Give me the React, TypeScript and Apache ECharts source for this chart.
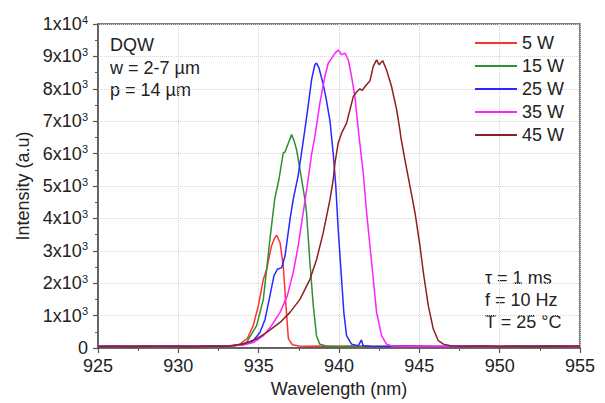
import React, { useEffect, useRef } from "react";
import * as echarts from "echarts";

const FONT = "'Liberation Sans', Arial, sans-serif";

const seriesNames = ["5 W", "15 W", "25 W", "35 W", "45 W"];
const seriesColors = ["#ff3030", "#2e9030", "#2828ff", "#ff20ff", "#8b2020"];

const red5: [number, number][] = [
  [925, 50], [926, 58], [927, 44], [928, 55], [929, 48], [930, 60], [931, 46], [932, 56], [933, 62],
  [933.5, 80], [933.84, 120], [934.3, 300], [934.66, 690], [934.98, 1300], [935.29, 2120], [935.5, 2430],
  [935.65, 2800], [935.8, 3150], [936.0, 3400], [936.12, 3480], [936.33, 3250], [936.53, 2530],
  [936.7, 1300], [936.85, 280], [937.1, 100], [937.5, 60], [938, 52], [939, 58], [940, 45], [941, 55],
  [942, 50], [944, 56], [946, 48], [948, 55], [950, 50], [952, 58], [955, 50],
];

const green15: [number, number][] = [
  [925, 55], [926, 48], [927, 60], [928, 50], [929, 56], [930, 47], [931, 58], [932, 52], [933, 60],
  [933.6, 75], [934.25, 170], [934.87, 690], [935.29, 1500], [935.7, 3350], [936.0, 4600], [936.26, 5200],
  [936.53, 6020], [936.64, 6050], [936.85, 6330], [937.05, 6585], [937.2, 6400], [937.36, 6120],
  [937.57, 5510], [937.88, 4585], [937.98, 4175], [938.19, 2640], [938.4, 1300], [938.6, 380],
  [938.8, 120], [939.2, 60], [940, 52], [941, 58], [942, 47], [944, 55], [946, 50], [948, 57],
  [950, 48], [952, 55], [955, 52],
];

const blue25: [number, number][] = [
  [925, 48], [926, 56], [927, 50], [928, 45], [929, 58], [930, 52], [931, 47], [932, 60], [933, 55],
  [934.0, 100], [934.66, 225], [935.08, 480], [935.4, 890], [935.7, 1610], [935.95, 2225], [936.16, 2430],
  [936.43, 2480], [936.64, 2840], [936.95, 3970], [937.15, 4585], [937.45, 5300], [937.75, 6300],
  [938.02, 7250], [938.3, 8300], [938.5, 8750], [938.6, 8790], [938.75, 8650], [939.0, 8175],
  [939.2, 7700], [939.44, 7000], [939.64, 6000], [939.8, 5000], [939.95, 3660], [940.16, 2120],
  [940.3, 1100], [940.47, 380], [940.78, 120], [941.2, 70], [941.4, 250], [941.5, 70], [942, 55],
  [943, 50], [944, 58], [946, 46], [948, 55], [950, 50], [952, 57], [955, 48],
];

const magenta35: [number, number][] = [
  [925, 52], [926, 46], [927, 57], [928, 52], [929, 45], [930, 55], [931, 60], [932, 50], [933, 58],
  [934.0, 90], [934.67, 170], [935.29, 380], [935.8, 690], [936.33, 1100], [936.78, 1610], [937.15, 2330],
  [937.46, 3150], [937.77, 4175], [938.08, 5200], [938.3, 6000], [938.5, 6530], [938.81, 7560],
  [939.12, 8380], [939.33, 8790], [939.54, 8940], [939.75, 9100], [939.96, 9200], [940.16, 9050],
  [940.37, 9100], [940.58, 8890], [940.78, 8380], [940.99, 7760], [941.2, 6740], [941.51, 5400],
  [941.72, 4175], [942.03, 2640], [942.34, 1100], [942.65, 380], [942.96, 120], [943.3, 60],
  [944, 52], [945, 58], [946, 47], [948, 55], [950, 50], [952, 56], [955, 50],
];

const brown45: [number, number][] = [
  [925, 45], [926, 55], [927, 50], [928, 60], [929, 47], [930, 56], [931, 50], [932, 58], [933, 55],
  [934.04, 120], [934.87, 280], [935.5, 480], [936.33, 790], [936.95, 1100], [937.57, 1500],
  [938.19, 2120], [938.61, 2740], [939.02, 3560], [939.44, 4585], [939.64, 5200], [939.75, 5710],
  [939.95, 6330], [940.16, 6630], [940.47, 6940], [940.68, 7350], [940.89, 7760], [941.09, 7900],
  [941.3, 8000], [941.45, 7950], [941.62, 8070], [941.93, 8250], [942.13, 8690], [942.34, 8890],
  [942.5, 8740], [942.72, 8870], [942.96, 8580], [943.27, 8070], [943.59, 7350], [943.8, 6700],
  [943.84, 6530], [944.1, 5815], [944.42, 4990], [944.73, 4175], [945.04, 3150], [945.25, 2330],
  [945.56, 1300], [945.87, 585], [946.18, 225], [946.5, 120], [947, 60], [948, 52], [949, 58],
  [950, 48], [951, 55], [952, 50], [953, 62], [954, 52], [955, 55],
];

const seriesData = [red5, green15, blue25, magenta35, brown45];

const xTicks = { min: 925, max: 955, interval: 5 };
const yTicks = { min: 0, max: 10000, interval: 1000 };

const notesTopLeft = ["DQW", "w = 2-7 µm", "p = 14 µm"];
const notesBottomRight = ["τ = 1 ms", "f = 10 Hz", "T = 25 °C"];

export default function App() {
  const ref = useRef<HTMLDivElement>(null);
  useEffect(() => {
    if (!ref.current) return;
    const chart = echarts.init(ref.current, undefined, { renderer: "svg" });
    const textColor = "#222";
    const axisColor = "#555";
    const fs = 18;
    const option: any = {
      animation: false,
      backgroundColor: "#fff",
      textStyle: { fontFamily: FONT },
      grid: {
        left: 98,
        right: 25,
        top: 24,
        bottom: 54,
        show: true,
        borderColor: axisColor,
        borderWidth: 1.5,
      },
      legend: {
        orient: "vertical",
        left: 475,
        top: 34,
        padding: 0,
        icon: "rect",
        itemWidth: 42,
        itemHeight: 2,
        itemGap: 5,
        data: seriesNames,
        textStyle: { fontSize: fs, color: textColor, fontFamily: FONT },
      },
      xAxis: {
        type: "value",
        min: xTicks.min,
        max: xTicks.max,
        interval: xTicks.interval,
        name: "Wavelength (nm)",
        nameLocation: "middle",
        nameGap: 32,
        nameTextStyle: { fontSize: fs, color: textColor, fontFamily: FONT },
        axisLine: { show: true, lineStyle: { color: axisColor, width: 1.5 } },
        axisTick: { show: true, length: 5, lineStyle: { color: axisColor, width: 1.2 } },
        minorTick: { show: true, splitNumber: 2, length: 3, lineStyle: { color: axisColor, width: 1 } },
        axisLabel: { fontSize: fs, color: textColor, margin: 9, fontFamily: FONT },
        splitLine: { show: true, lineStyle: { color: "#d4d4d4", type: "dotted", width: 1 } },
      },
      yAxis: {
        type: "value",
        min: yTicks.min,
        max: yTicks.max,
        interval: yTicks.interval,
        name: "Intensity (a.u)",
        nameLocation: "middle",
        nameGap: 66,
        nameRotate: 90,
        nameTextStyle: { fontSize: fs, color: textColor, fontFamily: FONT },
        axisLine: { show: true, lineStyle: { color: axisColor, width: 1.5 } },
        axisTick: { show: true, length: 5, lineStyle: { color: axisColor, width: 1.2 } },
        minorTick: { show: true, splitNumber: 2, length: 3, lineStyle: { color: axisColor, width: 1 } },
        axisLabel: {
          margin: 10,
          color: textColor,
          fontFamily: FONT,
          formatter: (v: number) => {
            if (v === 0) return "{a|0}";
            if (v === 10000) return "{a|1x10}{s|4}";
            return "{a|" + v / 1000 + "x10}{s|3}";
          },
          rich: {
            a: { fontSize: fs, color: textColor, fontFamily: FONT, lineHeight: 20 },
            s: { fontSize: 11, color: textColor, fontFamily: FONT, verticalAlign: "top", lineHeight: 12 },
          },
        },
        splitLine: { show: true, lineStyle: { color: "#d4d4d4", type: "dotted", width: 1 } },
      },
      graphic: [
        ...notesTopLeft.map((t, i) => ({
          type: "text",
          left: 110,
          top: 36 + i * 22.5,
          style: { text: t, fontSize: fs, fill: textColor, fontFamily: FONT },
        })),
        ...notesBottomRight.map((t, i) => ({
          type: "text",
          left: 485,
          top: 269 + i * 22,
          style: { text: t, fontSize: fs, fill: textColor, fontFamily: FONT },
        })),
      ],
      series: seriesData.map((d, i) => ({
        name: seriesNames[i],
        type: "line",
        data: d,
        symbol: "none",
        smooth: false,
        color: seriesColors[i],
        lineStyle: { width: 1.5, color: seriesColors[i] },
      })),
    };
    chart.setOption(option);
    return () => chart.dispose();
  }, []);
  return (
    <div
      ref={ref}
      style={{ position: "fixed", left: 0, top: 0, width: 605, height: 403 }}
    />
  );
}
